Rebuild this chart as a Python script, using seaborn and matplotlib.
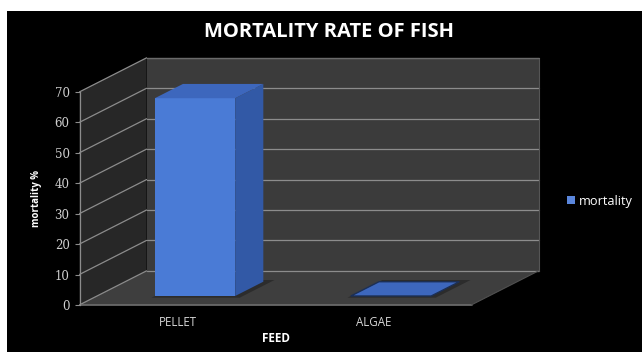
import matplotlib
matplotlib.use("Agg")
import matplotlib.pyplot as plt
import seaborn as sns
import pandas as pd
from matplotlib.patches import Polygon, Rectangle
from matplotlib.lines import Line2D

# ---- data ----
feeds = ["PELLET", "ALGAE"]
mortality = [65, 0]
series_name = "mortality"
y_ticks = [0, 10, 20, 30, 40, 50, 60, 70]
title = "MORTALITY RATE OF FISH"
x_title = "FEED"
y_title = "mortality %"

df = pd.DataFrame({"feed": feeds, "mortality": mortality,
                   "series": [series_name] * len(feeds)})

sns.set_style("white")
plt.rcParams["font.family"] = ["Open Sans", "DejaVu Sans"]

W, H = 642, 352
fig = plt.figure(figsize=(W / 100, H / 100), dpi=100, facecolor="white")
fig.patches.append(Rectangle((7 / W, 0), 1 - 7 / W, 1 - 11 / H,
                             transform=fig.transFigure, facecolor="black",
                             edgecolor="none", zorder=-10))


def px_box(left, top, width, height):
    return [left / W, 1 - (top + height) / H, width / W, height / H]


YMAX = 70
# plane of the bar fronts, and the front plane holding the axis
ax = fig.add_axes(px_box(97, 83, 392, 213))
fax = fig.add_axes(px_box(80, 92, 392, 213))
for a in (ax, fax):
    a.set_xlim(-0.5, len(feeds) - 0.5)
    a.set_ylim(0, YMAX)
    a.set_facecolor("none")

# oblique depth: full depth of the floor in axis units
UX = 67 / 392 * len(feeds)
UY = 34 / 213 * YMAX
Z_FRONT, Z_BACK = 0.26, 0.68   # bar depth range


def P(x, y, z):
    return (x + (z - Z_FRONT) * UX, y + (z - Z_FRONT) * UY)


x0, x1 = -0.5, len(feeds) - 0.5


def poly(pts, color, z, ec="none", lw=0):
    ax.add_patch(Polygon(pts, closed=True, facecolor=color, edgecolor=ec,
                         linewidth=lw, zorder=z, clip_on=False))


def line(p, q, color, lw, z):
    ax.add_line(Line2D([p[0], q[0]], [p[1], q[1]], color=color, lw=lw,
                       zorder=z, clip_on=False))


# walls and floor
poly([P(x0, 0, 1), P(x1, 0, 1), P(x1, YMAX, 1), P(x0, YMAX, 1)], "#3b3b3b", 0.1)
poly([P(x0, 0, 0), P(x0, 0, 1), P(x0, YMAX, 1), P(x0, YMAX, 0)], "#272727", 0.1)
poly([P(x0, 0, 0), P(x1, 0, 0), P(x1, 0, 1), P(x0, 0, 1)], "#3e3e3e", 0.15)

# gridlines on back and side walls
for v in y_ticks:
    line(P(x0, v, 1), P(x1, v, 1), "#8c8c8c", 0.9, 0.3)
    line(P(x0, v, 0), P(x0, v, 1), "#8c8c8c", 0.9, 0.3)
line(P(x1, 0, 1), P(x1, YMAX, 1), "#555555", 0.8, 0.3)
line(P(x0, YMAX, 1), P(x1, YMAX, 1), "#6a6a6a", 0.8, 0.3)
line(P(x0, 0, 0), P(x1, 0, 0), "#707070", 1.2, 0.3)
line(P(x1, 0, 0), P(x1, 0, 1), "#505050", 0.8, 0.3)

# bars
sns.barplot(data=df, x="feed", y="mortality", hue="series",
            palette=["#4a7bd6"], width=0.41, dodge=False, ax=ax,
            saturation=1, legend=True)
bars = [p for c in ax.containers for p in c]
for b in bars:
    b.set_zorder(2)
    b.set_edgecolor("none")
    bx, bw, bh = b.get_x(), b.get_width(), b.get_height()
    # soft shadow on the floor
    poly([P(bx, 0, Z_FRONT - 0.05), P(bx + bw + 0.04, 0, Z_FRONT - 0.05),
          P(bx + bw + 0.04, 0, Z_BACK + 0.05), P(bx, 0, Z_BACK + 0.05)],
         "#2c2c2c", 0.2)
    # right side face
    poly([P(bx + bw, 0, Z_FRONT), P(bx + bw, 0, Z_BACK),
          P(bx + bw, bh, Z_BACK), P(bx + bw, bh, Z_FRONT)], "#3259a6", 1.9)
    # top face
    flat = bh == 0
    poly([P(bx, bh, Z_FRONT), P(bx + bw, bh, Z_FRONT),
          P(bx + bw, bh, Z_BACK), P(bx, bh, Z_BACK)], "#3d67bd", 2.1,
         ec="#1c2f55" if flat else "none", lw=1.0 if flat else 0)

handles, labels = ax.get_legend_handles_labels()
if ax.get_legend() is not None:
    ax.get_legend().remove()
ax.axis("off")

# front axis with ticks and titles
fax.set_xticks(range(len(feeds)))
fax.set_xticklabels(feeds)
fax.set_yticks(y_ticks)
for s in ("top", "right", "bottom"):
    fax.spines[s].set_visible(False)
fax.spines["left"].set_color("#8c8c8c")
fax.spines["left"].set_linewidth(0.9)
fax.tick_params(axis="y", length=3.5, width=0.8, color="#8c8c8c",
                labelcolor="#d0d0d0", labelsize=8.5, pad=4, left=True)
fax.tick_params(axis="x", length=0, labelcolor="#d8d8d8", labelsize=8.3, pad=8)
for t in fax.get_yticklabels():
    t.set_fontfamily(["DejaVu Serif"])
fax.set_xlabel(x_title, color="white", fontsize=8.5, fontweight="bold", labelpad=2)
fax.set_ylabel(y_title, color="white", fontsize=7, fontweight="bold", labelpad=9)

fig.text(329 / W, 1 - 32 / H, title, color="white", fontsize=14.5,
         fontweight="bold", ha="center", va="center")

leg = fig.legend(handles, [series_name], loc="center left",
                 bbox_to_anchor=(567 / W, 1 - 201 / H), frameon=False,
                 fontsize=9.2, labelcolor="white", handlelength=0.6,
                 handleheight=0.6, handletextpad=0.35, borderpad=0,
                 borderaxespad=0)
for h in leg.legend_handles:
    h.set_edgecolor("none")
    h.set_facecolor("#5a86dc")

fig.savefig("out.png", dpi=100, facecolor="white")
